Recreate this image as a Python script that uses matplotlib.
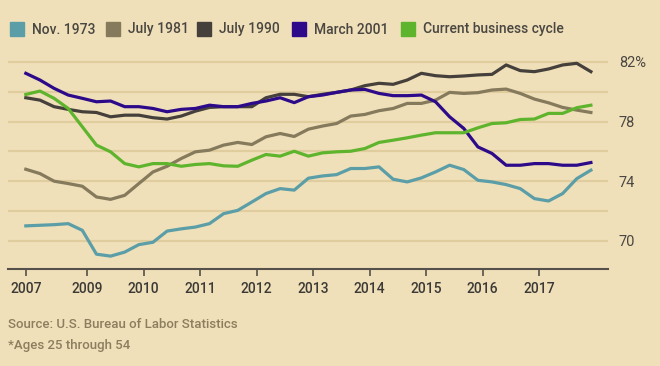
import matplotlib
matplotlib.use("Agg")
import matplotlib.pyplot as plt
import numpy as np
from matplotlib.patches import Rectangle

plt.rcParams['font.family'] = ['Roboto', 'DejaVu Sans']

# months since the start of each cycle (sampled every 3 months)
months = np.arange(0, 121, 3)

nov_1973 = [71.0, 71.04, 71.08, 71.15, 70.7, 69.1, 68.97, 69.24, 69.74, 69.9, 70.65,
            70.8, 70.92, 71.15, 71.82, 72.04, 72.6, 73.17, 73.5, 73.4, 74.2,
            74.35, 74.44, 74.85, 74.85, 74.96, 74.13, 73.95, 74.22, 74.62, 75.07,
            74.78, 74.06, 73.95, 73.77, 73.5, 72.83, 72.67, 73.17, 74.17, 74.74]
july_1981 = [74.8, 74.51, 74.0, 73.84, 73.66, 72.94, 72.78, 73.05, 73.84, 74.62, 75.0,
             75.52, 75.97, 76.08, 76.42, 76.6, 76.46, 76.98, 77.2, 77.0, 77.49,
             77.7, 77.87, 78.37, 78.48, 78.73, 78.88, 79.22, 79.22, 79.44, 79.96,
             79.89, 79.94, 80.12, 80.18, 79.89, 79.51, 79.26, 78.95, 78.77, 78.61]
july_1990 = [79.6, 79.44, 79.0, 78.82, 78.66, 78.61, 78.32, 78.43, 78.43, 78.26, 78.17,
             78.37, 78.7, 78.95, 79.0, 79.0, 79.0, 79.6, 79.83, 79.83, 79.67,
             79.83, 79.96, 80.12, 80.41, 80.57, 80.5, 80.79, 81.24, 81.08, 81.01,
             81.06, 81.13, 81.17, 81.8, 81.42, 81.35, 81.53, 81.8, 81.91, 81.35]
march_2001 = [81.24, 80.79, 80.23, 79.78, 79.56, 79.33, 79.38, 79.0, 79.0, 78.88, 78.66,
              78.82, 78.88, 79.1, 79.0, 79.0, 79.22, 79.38, 79.6, 79.27, 79.67,
              79.78, 79.96, 80.12, 80.16, 79.89, 79.74, 79.74, 79.78, 79.33, 78.32,
              77.54, 76.3, 75.86, 75.07, 75.07, 75.18, 75.18, 75.07, 75.07, 75.25]
current = [79.82, 80.05, 79.56, 78.88, 77.65, 76.42, 75.97, 75.18, 74.96, 75.18, 75.18,
           75.0, 75.12, 75.18, 75.03, 75.0, 75.41, 75.79, 75.68, 76.01, 75.68,
           75.9, 75.97, 76.01, 76.19, 76.6, 76.75, 76.91, 77.09, 77.25, 77.25,
           77.25, 77.58, 77.87, 77.92, 78.14, 78.17, 78.55, 78.55, 78.93, 79.1]

series_names = ['Nov. 1973', 'July 1981', 'July 1990', 'March 2001', 'Current business cycle']
series_colors = ['#5b9ea7', '#857a5c', '#45403b', '#2c0a8a', '#5fb42d']

tick_months = [0, 13, 25, 37, 49, 61, 73, 85, 97, 109]
tick_labels = ['2007', '2009', '2010', '2011', '2012', '2013', '2014', '2015', '2016', '2017']
y_ticks = [70, 74, 78, 82]
y_labels = ['70', '74', '78', '82%']

bg = '#f0e0b9'
fig = plt.figure(figsize=(6.6, 3.66), dpi=100, facecolor=bg)
ax = fig.add_axes([0.012, 0.264, 0.909, 0.587], facecolor=bg)

for g in range(70, 83, 2):
    ax.axhline(g, color='#e0cd9e', lw=1.6, zorder=1)

all_series = [nov_1973, july_1981, july_1990, march_2001, current]
for vals, col in zip(all_series, series_colors):
    ax.plot(months, vals, color=col, lw=2.3, zorder=3, solid_joinstyle='round')

ax.set_xlim(-3.8, 123.6)
ax.set_ylim(68.08, 82.5)

for s in ['top', 'left', 'right']:
    ax.spines[s].set_visible(False)
ax.spines['bottom'].set_color('#55514a')
ax.spines['bottom'].set_linewidth(1.5)

ax.set_xticks(tick_months)
ax.set_xticklabels(tick_labels, fontweight='medium')
ax.tick_params(axis='x', length=5, width=1.2, color='#55514a', labelsize=10,
               labelcolor='#3c3a36', pad=4)

ax.yaxis.tick_right()
ax.set_yticks(y_ticks)
ax.set_yticklabels(y_labels)
ax.tick_params(axis='y', length=0, labelsize=10.5, labelcolor='#4a4742', pad=8)

# legend row
leg_x = [10, 106, 197, 292, 401]
for name, col, x0 in zip(series_names, series_colors, leg_x):
    fig.patches.append(Rectangle((x0 / 660, 1 - 36 / 366), 14 / 660, 14 / 366,
                                 transform=fig.transFigure, color=col, figure=fig))
    fig.text((x0 + 22) / 660, 1 - 29.5 / 366, name, fontsize=10, color='#4a4742',
             va='center', ha='left', fontweight='medium')

fig.text(8 / 660, 1 - 325 / 366, 'Source: U.S. Bureau of Labor Statistics',
         fontsize=9.5, color='#8c7d5e', va='center', fontweight='medium')
fig.text(8 / 660, 1 - 346 / 366, '*Ages 25 through 54',
         fontsize=9.5, color='#8c7d5e', va='center', fontweight='medium')

fig.savefig('out.png', dpi=100, facecolor=bg)
